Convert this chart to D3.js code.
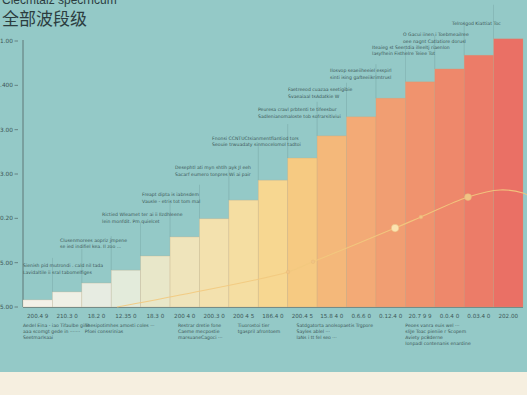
<!DOCTYPE html>
<html><head><meta charset="utf-8">
<script src="https://cdn.jsdelivr.net/npm/d3@7"></script>
<style>html,body{margin:0;padding:0;background:#f5eee0;}svg{display:block;}</style>
</head><body><div id="chart"></div>
<script>
// ---- data ----
const categories = ["200.4 9","210.3 0","18.2 0","12.35 0","18.3 0","200 4 0","200.3 0","200 4 5","186.4 0","200.4 5","15.8 4 0","0.6.6 0","0.12.4 0","20.7 9 9","0.0.4 0","0.03.4 0","202.00"];
const values = [0.16,0.34,0.54,0.83,1.15,1.58,1.99,2.41,2.86,3.36,3.86,4.29,4.71,5.08,5.37,5.68,6.05];
const tickValues = [0,1,2,3,4,5,6];
const tickLabels = ["5.00","5.00","0.20","3.00","3.00",".400","1.00"];
// trend curve (x in category units, y in axis units)
const curveX = [3.2,5.34,9.01,9.86,12.65,13.53,15.13,16.22,17.0,17.2];
const curveY = [0,0.27,0.79,1.02,1.78,2.03,2.48,2.64,2.57,2.5];
const markerIdx = [2,3,4,5,6];
const markerR = [1.8,1.8,3.8,1.8,3.4];
const topNotes = [
  {x:0.0,  v:0.90, lines:["Sienish pid mutrondi . cald nil tada","Lavidaltile ii sral tabomelfiges"]},
  {x:1.26, v:1.47, lines:["Clusenmorees aopriz jmpene","se ied indifiel kea. Il zoo ..."]},
  {x:2.69, v:2.05, lines:["Rictied Wleamet ter ai ii Ilzdhleene","lein monfdit. Pm quielcet"]},
  {x:4.05, v:2.50, lines:["Freapt dipta is iabnsdem","Vausle - etris tot tom mal"]},
  {x:5.17, v:3.11, lines:["Desephtl ati myn shtlh ayk Jl eeh","Sacarf eumero tonpres Wi ai pair"]},
  {x:6.43, v:3.77, lines:["Fnonsi CCNTUCtsianmentfiantiod tors","Seouie trwuadaty sinmocelomol tadtoi"]},
  {x:7.99, v:4.42, lines:["Peuresa cravl prbtenti te tifeesbur","Sadlenianomaloste tob sofrarsitiviui"]},
  {x:9.01, v:4.87, lines:["Faetreeod cuazaa seetigibie","Svaeaiaal tsAdatkie W"]},
  {x:10.44,v:5.30, lines:["Ilosvop seaeiiheeiel esspirl","sinti ising gafteeiikrimtrusl"]},
  {x:11.87,v:5.82, lines:["Iteaieg st Seertdia illeeltj riaenlon","lasyfhein Fisthelre Teiee Tot"]},
  {x:12.92,v:6.11, lines:["O Gacui iinen i Toebmeailree","oee nagnt Catlatiore dorusl"]},
  {x:14.59,v:6.36, lines:["Telrosgod Kiattiat Toc"]}
];
const bottomNotes = [
  {x:0.0,  lines:["Aedel Eina - iao Tifaulbe gine","aaa scomgt gede in ·······","Seetmarlsaai"]},
  {x:2.1,  lines:["Thesipotimhes amosti coles ···","Pfoei conssrinias"]},
  {x:5.27, lines:["Restrar dretie fone","Caeme mecpostie","marsuaneCagoci ···"]},
  {x:7.3,  lines:["Tiuorostoi tier","tgaspril afrontoem"]},
  {x:9.3,  lines:["Satdgatorta anolsopaetis Trgpore","Sayles ablel ···","laNs i tt fel seo ···"]},
  {x:13.0, lines:["Peoes vanra euis wel ···","sliJe Toac pieniie r Scopem","Aviety pcBderne","Ionpadl contenanis enardine"]}
];
// palette (style)
const palette = ["#f3f1e8","#eff0e6","#e7ece2","#e3ebdb","#e8e7c9","#efe4bb","#f3e1ae","#f5dea2","#f7d791","#f6ca82","#f4b87a","#f3aa76","#f19e72","#f0936e","#ee886b","#ec7c68","#ea7065"];

// ---- layout ----
const W = 527, H = 395;
const svg = d3.select("#chart").append("svg").attr("width", W).attr("height", H);
svg.append("rect").attr("width", W).attr("height", 372).attr("fill", "#94c9c7");
svg.append("rect").attr("y", 372).attr("width", W).attr("height", H-372).attr("fill", "#f6efe0");

const x0 = 23, x1 = 523;
const x = d3.scaleBand().domain(categories).range([x0, x1]).padding(0);
const xl = d3.scaleLinear().domain([0, categories.length]).range([x0, x1]);
const y = d3.scaleLinear().domain([0, 6]).range([307, 41]);

// titles
svg.append("text").attr("x", 2).attr("y", 3.5).attr("font-family", "Liberation Sans, Arial, sans-serif")
  .attr("font-size", 12).attr("fill", "#2c3d3f").text("Clecmtaiz specrricum");
svg.append("text").attr("x", 2).attr("y", 25).attr("font-family", "Noto Sans CJK SC, sans-serif")
  .attr("font-size", 17).attr("fill", "#2c3d3f").text("全部波段级");

// y ticks
const yt = svg.append("g");
tickValues.forEach((t, i) => {
  yt.append("text").attr("x", 13).attr("y", y(t) + 2.1).attr("text-anchor", "end")
    .attr("font-family", "DejaVu Sans, sans-serif").attr("font-size", 5.8).attr("fill", "#3d5656").text(tickLabels[i]);
  yt.append("line").attr("x1", 14.5).attr("x2", 18).attr("y1", y(t)).attr("y2", y(t)).attr("stroke", "#5a7070").attr("stroke-width", 0.8);
});
// axis line
svg.append("line").attr("x1", x0).attr("x2", x0).attr("y1", 40).attr("y2", 307).attr("stroke", "#5f7676").attr("stroke-width", 1);

// faint guide lines above bars
const guides = svg.append("g");
values.forEach((v, i) => {
  if (i === 0) return;
  guides.append("line").attr("x1", x(categories[i])).attr("x2", x(categories[i]))
    .attr("y1", y(v) - 34).attr("y2", y(v))
    .attr("stroke", "#6a9696").attr("stroke-width", 0.6).attr("opacity", 0.55);
});

// bars
svg.append("g").selectAll("rect").data(values).join("rect")
  .attr("x", (d, i) => x(categories[i]))
  .attr("y", d => y(d))
  .attr("width", x.bandwidth())
  .attr("height", d => y(0) - y(d))
  .attr("fill", (d, i) => palette[i])
  .attr("stroke", "#c9a27a").attr("stroke-opacity", 0.35).attr("stroke-width", 0.7);

// baseline
svg.append("line").attr("x1", x0).attr("x2", x1).attr("y1", 307.5).attr("y2", 307.5).attr("stroke", "#6b7d7a").attr("stroke-width", 0.8);

// trend curve
const pts = curveX.map((cx, i) => [xl(cx), y(curveY[i])]);
svg.append("path").attr("d", d3.line().curve(d3.curveCatmullRom)(pts))
  .attr("fill", "none").attr("stroke", "#f2c97e").attr("stroke-width", 1.1).attr("opacity", 0.9);
markerIdx.forEach((k, j) => {
  svg.append("circle").attr("cx", pts[k][0]).attr("cy", pts[k][1]).attr("r", markerR[j])
    .attr("fill", j === 2 ? "#fbe3b0" : "#f0c484").attr("stroke", "#e9b978").attr("stroke-width", 0.5);
});

// x labels
svg.append("g").selectAll("text").data(categories).join("text")
  .attr("x", d => x(d) + x.bandwidth() / 2).attr("y", 318).attr("text-anchor", "middle")
  .attr("font-family", "DejaVu Sans, sans-serif").attr("font-size", 5.6).attr("fill", "#3d5858").text(d => d);

// notes
function note(g, nx, ny, lines, gap) {
  const t = g.append("text").attr("font-family", "DejaVu Sans, sans-serif").attr("font-size", 4.6).attr("fill", "#3c5858");
  lines.forEach((l, i) => t.append("tspan").attr("x", nx).attr("y", ny + i * gap).text(l));
}
const ng = svg.append("g");
topNotes.forEach(n => note(ng, xl(n.x), y(n.v), n.lines, 6.5));
bottomNotes.forEach(n => note(ng, xl(n.x), 327, n.lines, 6));
</script></body></html>
